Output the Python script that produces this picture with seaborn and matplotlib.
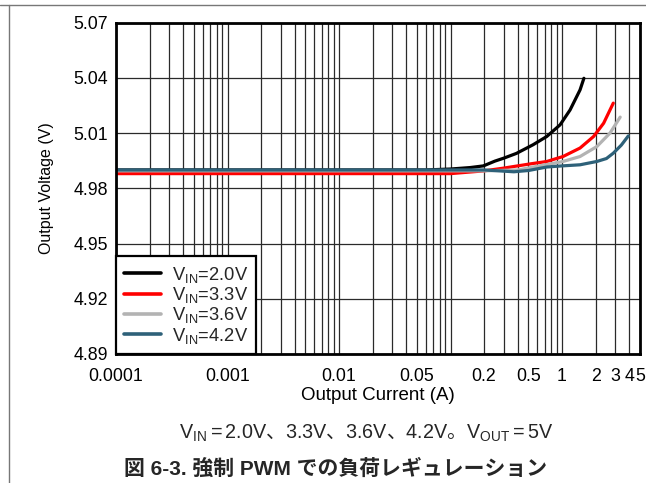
import numpy as np
import pandas as pd
import matplotlib
matplotlib.use("Agg")
import matplotlib.pyplot as plt
import seaborn as sns
from matplotlib.lines import Line2D
from matplotlib.ticker import NullFormatter, NullLocator

# ---- data ----
x_20 = [0.0001, 0.06, 0.1, 0.15, 0.197, 0.25, 0.3, 0.39, 0.55, 0.73, 0.96, 1.18, 1.45, 1.57]
y_20 = [4.990, 4.990, 4.9905, 4.9913, 4.9922, 4.9948, 4.9964, 4.9990, 5.0037, 5.0082, 5.0145, 5.0226, 5.0335, 5.0398]

x_33 = [0.0001, 0.1, 0.2, 0.3, 0.52, 0.73, 1.02, 1.45, 1.92, 2.36, 2.88]
y_33 = [4.988, 4.988, 4.9895, 4.991, 4.9933, 4.9946, 4.9973, 5.0019, 5.0082, 5.0154, 5.0263]

x_36 = [0.0001, 0.2, 0.4, 0.59, 1.02, 1.45, 2.05, 2.69, 3.32]
y_36 = [4.9895, 4.9895, 4.990, 4.9919, 4.9946, 4.9973, 5.0027, 5.010, 5.0187]

x_42 = [0.0001, 0.2, 0.37, 0.5, 0.73, 1.0, 1.45, 2.05, 2.5, 2.88, 3.4, 3.93]
y_42 = [4.990, 4.990, 4.989, 4.9897, 4.9916, 4.9922, 4.9928, 4.9946, 4.9962, 4.9991, 5.0035, 5.0085]

labels = [r"V$_{\mathrm{IN}}$=2.0V", r"V$_{\mathrm{IN}}$=3.3V",
          r"V$_{\mathrm{IN}}$=3.6V", r"V$_{\mathrm{IN}}$=4.2V"]
colors = ["#000000", "#ff0000", "#b3b3b3", "#2e6179"]

xtick_vals = [0.0001, 0.001, 0.01, 0.05, 0.2, 0.5, 1, 2, 3, 4, 5]
xtick_labels = ["0.0001", "0.001", "0.01", "0.05", "0.2", "0.5", "1", "2", "3", "4", "5"]
ytick_vals = [4.89, 4.92, 4.95, 4.98, 5.01, 5.04, 5.07]

frames = []
for lab, xs, ys in zip(labels, [x_20, x_33, x_36, x_42], [y_20, y_33, y_36, y_42]):
    frames.append(pd.DataFrame({"I": xs, "V": ys, "series": lab}))
df = pd.concat(frames, ignore_index=True)

# ---- style ----
sns.set_theme(style="white")
plt.rcParams["font.family"] = ["Liberation Sans", "Noto Sans CJK JP"]
plt.rcParams["mathtext.fontset"] = "custom"
plt.rcParams["mathtext.rm"] = "Liberation Sans"
plt.rcParams["mathtext.it"] = "Liberation Sans:italic"
plt.rcParams["mathtext.bf"] = "Liberation Sans:bold"

fig = plt.figure(figsize=(6.46, 4.83), dpi=100)
ax = fig.add_axes([116/646, 1-354/483, (640-116)/646, (354-22.7)/483])

sns.lineplot(data=df, x="I", y="V", hue="series", palette=dict(zip(labels, colors)),
             hue_order=labels, estimator=None, sort=False, linewidth=2.3, ax=ax, zorder=3)

ax.set_xscale("log")
ax.set_xlim(0.0001, 5)
ax.set_ylim(4.89, 5.07)

minor = []
for dec in [1e-4, 1e-3, 1e-2, 1e-1, 1]:
    for m in range(1, 10):
        v = dec * m
        if v <= 5.0001 and not any(abs(v - t) / t < 1e-6 for t in xtick_vals):
            minor.append(v)
ax.set_xticks(xtick_vals)
ax.set_xticklabels(xtick_labels)
ax.set_xticks(minor, minor=True)
ax.xaxis.set_minor_formatter(NullFormatter())
ax.set_yticks(ytick_vals)
ax.set_yticklabels([f"{v:.2f}" for v in ytick_vals])
ax.yaxis.set_minor_locator(NullLocator())

ax.grid(True, which="both", axis="x", color="#2a2a2a", linewidth=0.9)
ax.grid(True, which="major", axis="y", color="#2a2a2a", linewidth=0.9)
ax.tick_params(which="both", length=0, labelsize=12.8, colors="black")
ax.tick_params(axis="y", pad=6)
ax.tick_params(axis="x", pad=10)

for s in ax.spines.values():
    s.set_visible(True)
    s.set_color("black")
    s.set_linewidth(2.0)
    s.set_zorder(5)

ax.set_xlabel("Output Current (A)", fontsize=13.5, labelpad=1.5, color="black")
ax.set_ylabel("Output Voltage (V)", fontsize=11.5, labelpad=14, color="black")

leg = ax.legend(loc="lower left", borderaxespad=0, fancybox=False, framealpha=1,
                edgecolor="black", fontsize=13.2, handlelength=2.0, handletextpad=0.58,
                labelspacing=0.02, borderpad=0.45)
leg.get_frame().set_linewidth(1.6)
leg.set_zorder(6)
for h in leg.get_lines():
    h.set_linewidth(2.6)

cap1 = (r"$\mathrm{V_{IN}=2.0V}$、$\mathrm{3.3V}$、$\mathrm{3.6V}$、$\mathrm{4.2V}$。"
        r"$\mathrm{V_{OUT}=5V}$")
fig.text(366/646, 1-433/483, cap1, ha="center", va="center", fontsize=14.2,
         family="Noto Sans CJK JP")
fig.text(336/646, 1-469/483, "図 6-3. 強制 PWM での負荷レギュレーション", ha="center",
         va="center", fontsize=15, fontweight="bold",
         family=["Liberation Sans", "Noto Sans CJK JP"])

# page border lines (top and left)
fig.add_artist(Line2D([0, 1], [1-4.5/483, 1-4.5/483], transform=fig.transFigure,
                      color="#777777", linewidth=1))
fig.add_artist(Line2D([8.5/646, 8.5/646], [0, 1-4.5/483], transform=fig.transFigure,
                      color="#777777", linewidth=1))

fig.savefig("out.png", dpi=100)
